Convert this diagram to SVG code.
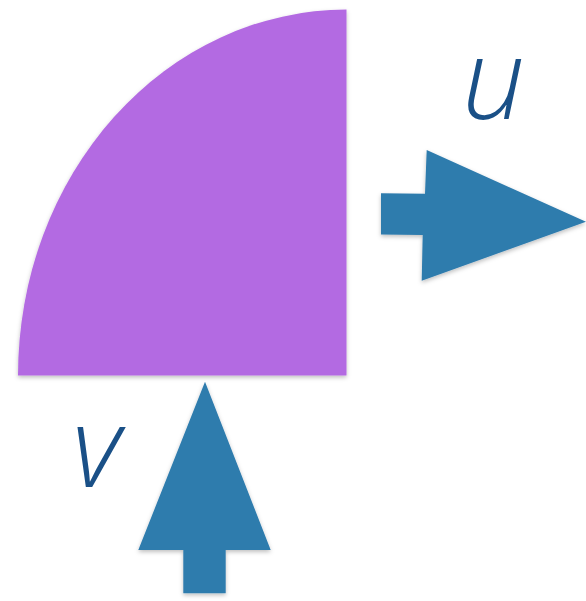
<svg xmlns="http://www.w3.org/2000/svg" width="586" height="601" viewBox="0 0 586 601">
  <defs>
    <filter id="shadow" x="-10%" y="-10%" width="120%" height="120%">
      <feDropShadow dx="0" dy="2" stdDeviation="2" flood-color="#000" flood-opacity="0.25"/>
    </filter>
  </defs>
  <style>
    .arrow { fill: #2e7bad; filter: url(#shadow); }
    .label { font-family: "Open Sans", "DejaVu Sans", sans-serif; font-style: italic; font-weight: 300; font-size: 112px; fill: #1a5087; }
  </style>
  <rect width="586" height="601" fill="#ffffff"/>
  <g id="quarter">
    <path d="M346.5,375.6 L18,375.6 A328.5,366 0 0 1 346.5,9.6 Z" fill="#b36ae2" filter="url(#shadow)"/>
  </g>
  <g id="arrow-u">
    <path class="arrow" d="M381,193.3 L425,193.8 L426.7,150 L586,221.7 L421.7,280.7 L422.7,235 L381,234.5 Z"/>
  </g>
  <g id="arrow-v">
    <path class="arrow" d="M205,381.7 L270.7,550 L225.7,550 L225.7,593.3 L183.3,593.3 L183.3,550 L138.3,550 Z"/>
  </g>
  <g id="label-u">
    <text class="label" x="462" y="119">u</text>
  </g>
  <g id="label-v">
    <text class="label" x="72" y="487">v</text>
  </g>
</svg>
